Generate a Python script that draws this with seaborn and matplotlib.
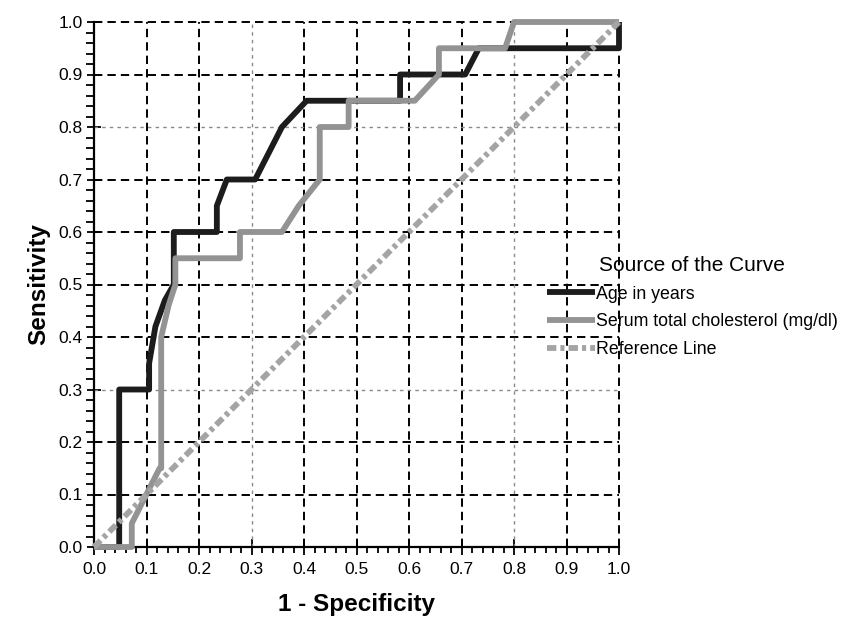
import matplotlib
matplotlib.use("Agg")
import matplotlib.pyplot as plt
import seaborn as sns
import pandas as pd
from matplotlib.ticker import MultipleLocator

# ---- data ----
age_fpr = [0.0, 0.048, 0.048, 0.105, 0.105, 0.117, 0.135, 0.152, 0.152, 0.234, 0.234, 0.253,
           0.307, 0.358, 0.405, 0.583, 0.583, 0.707, 0.733, 1.0, 1.0]
age_tpr = [0.0, 0.0, 0.30, 0.30, 0.35, 0.42, 0.47, 0.50, 0.60, 0.60, 0.65, 0.70,
           0.70, 0.80, 0.85, 0.85, 0.90, 0.90, 0.95, 0.95, 1.0]

chol_fpr = [0.0, 0.072, 0.072, 0.125, 0.128, 0.128, 0.142, 0.155, 0.155, 0.278, 0.278, 0.358,
            0.39, 0.43, 0.43, 0.485, 0.485, 0.611, 0.657, 0.657, 0.783, 0.80, 1.0]
chol_tpr = [0.0, 0.0, 0.045, 0.15, 0.15, 0.40, 0.46, 0.50, 0.55, 0.55, 0.60, 0.60,
            0.65, 0.70, 0.80, 0.80, 0.85, 0.85, 0.90, 0.95, 0.95, 1.0, 1.0]

ref_x = [0.0, 1.0]
ref_y = [0.0, 1.0]

labels = ["Age in years", "Serum total cholesterol (mg/dl)", "Reference Line"]
tick_vals = [round(0.1 * i, 1) for i in range(11)]

sns.set_style("white")
plt.rcParams['font.family'] = ['Liberation Sans', 'DejaVu Sans']
plt.rcParams['text.color'] = 'black'
plt.rcParams['axes.labelcolor'] = 'black'

fig = plt.figure(figsize=(8.46, 6.29), dpi=100)
ax = fig.add_axes([94 / 846, 1 - 547 / 629, 525 / 846, 525 / 629])

# grid
light = {0.3, 0.8}
for v in tick_vals[1:]:
    if v in light:
        kw = dict(color="#8a8a8a", lw=1.0, dashes=(2.5, 3))
    else:
        kw = dict(color="black", lw=1.4, dashes=(4.3, 2.6))
    ax.axvline(v, clip_on=False, zorder=1, **kw)
    ax.axhline(v, clip_on=False, zorder=1, **kw)

df_age = pd.DataFrame({"x": age_fpr, "y": age_tpr})
df_chol = pd.DataFrame({"x": chol_fpr, "y": chol_tpr})
df_ref = pd.DataFrame({"x": ref_x, "y": ref_y})

sns.lineplot(data=df_age, x="x", y="y", sort=False, estimator=None, ax=ax,
             color="#1c1c1c", lw=4.2, label=labels[0], zorder=3)
sns.lineplot(data=df_chol, x="x", y="y", sort=False, estimator=None, ax=ax,
             color="#939393", lw=4.2, label=labels[1], zorder=4)
sns.lineplot(data=df_ref, x="x", y="y", sort=False, estimator=None, ax=ax,
             color="#a4a4a4", lw=4.2, label=labels[2], zorder=5)
ax.lines[-1].set_dashes((1.6, 0.7, 0.7, 0.7))
for ln in ax.lines[-3:]:
    ln.set_clip_on(False)
    ln.set_solid_capstyle("butt")

ax.set_xlim(0, 1.0)
ax.set_ylim(0, 1.0)
ax.set_xticks(tick_vals)
ax.set_yticks(tick_vals)
ax.set_xticklabels([f"{v:.1f}" for v in tick_vals], fontsize=12.5)
ax.set_yticklabels([f"{v:.1f}" for v in tick_vals], fontsize=12.5)
ax.xaxis.set_minor_locator(MultipleLocator(0.02))
ax.yaxis.set_minor_locator(MultipleLocator(0.02))
ax.tick_params(axis="x", which="major", direction="inout", length=11, width=1.3, pad=5)
ax.tick_params(axis="x", which="minor", direction="out", length=4.5, width=1.3)
ax.tick_params(axis="y", which="major", direction="inout", length=10, width=1.3, pad=3)
ax.tick_params(axis="y", which="minor", direction="out", length=5.5, width=1.3)
ax.tick_params(bottom=True, left=True, which="both", colors="black", labelcolor="black")

for s in ["top", "right"]:
    ax.spines[s].set_visible(False)
for s in ["left", "bottom"]:
    ax.spines[s].set_color("black")
    ax.spines[s].set_linewidth(1.6)

ax.set_xlabel("1 - Specificity", fontsize=17.5, fontweight="bold", labelpad=12)
ax.set_ylabel("Sensitivity", fontsize=17.5, fontweight="bold", labelpad=6)

leg = ax.legend(loc="upper left", bbox_to_anchor=(547 / 846, 1 - 256 / 629),
                bbox_transform=fig.transFigure, frameon=False,
                title="Source of the Curve", fontsize=12.8, title_fontsize=15,
                handlelength=2.7, handletextpad=0.05, labelspacing=0.6,
                borderpad=0.0, borderaxespad=0.0)
leg.get_title().set_color("black")

fig.savefig("out.png", dpi=100)
